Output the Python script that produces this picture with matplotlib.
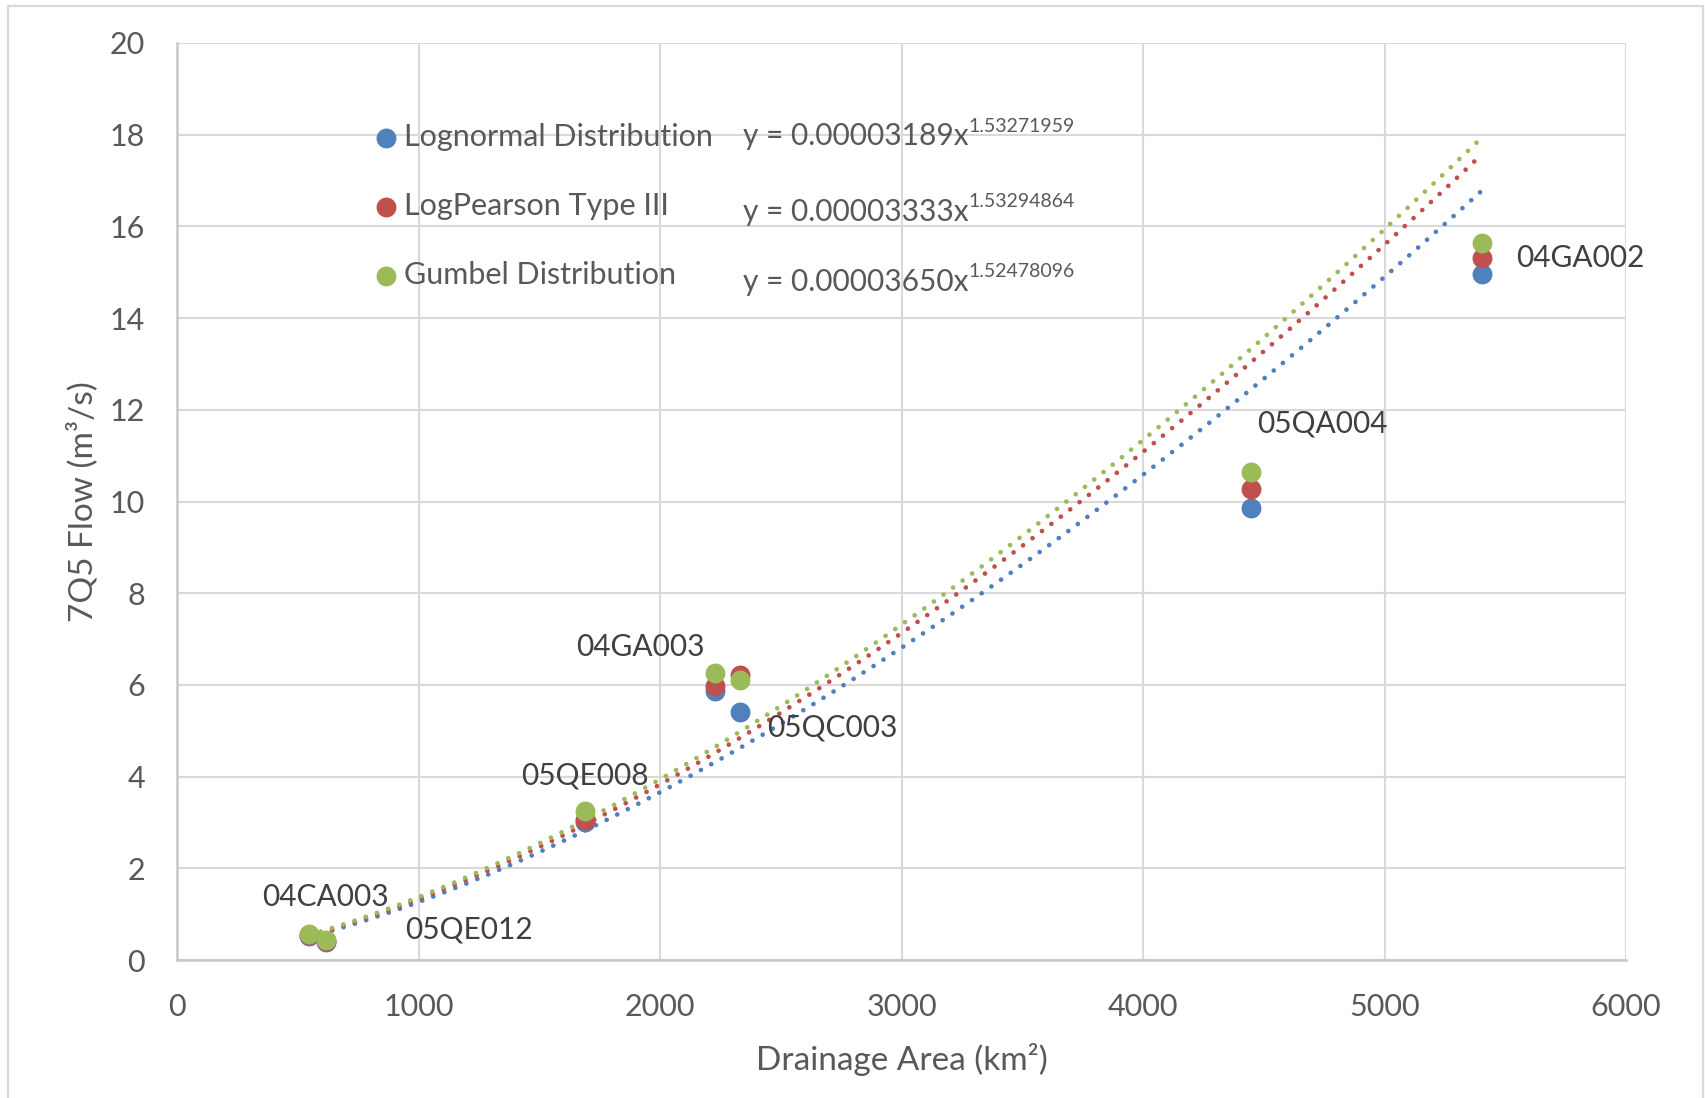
import numpy as np
import matplotlib
matplotlib.use("Agg")
import matplotlib.pyplot as plt
from matplotlib.patches import Rectangle

# drainage area (km2) per station, and 7Q5 flow per distribution
STATIONS = ["04CA003", "05QE012", "05QE008", "04GA003", "05QC003", "05QA004", "04GA002"]
AREA = [548, 616, 1691, 2229, 2333, 4446, 5402]
LOGNORMAL = [0.53, 0.40, 3.02, 5.86, 5.41, 9.85, 14.97]
LOGPEARSON = [0.54, 0.41, 3.06, 5.98, 6.22, 10.28, 15.32]
GUMBEL = [0.56, 0.43, 3.26, 6.26, 6.11, 10.65, 15.63]

# power trendlines as printed on the chart: y = a * x^b
COEF = [0.00003189, 0.00003333, 0.00003650]
EXPO = [1.53271959, 1.53294864, 1.52478096]
COEF_TXT = ["0.00003189", "0.00003333", "0.00003650"]
EXPO_TXT = ["1.53271959", "1.53294864", "1.52478096"]

NAMES = ["Lognormal Distribution", "LogPearson Type III", "Gumbel Distribution"]
COLORS = ["#4F81BD", "#C0504D", "#9BBB59"]

# label offsets (pixels) relative to the Gumbel point
LBL_OFF = [(16, 37), (143, 11), (0, 35), (-75, 26), (92, -48), (72, 48), (99, -15)]

FONT = "Lato"
TXT = "#595959"
plt.rcParams["font.family"] = [FONT, "DejaVu Sans"]

fig = plt.figure(figsize=(17.05, 10.98), dpi=100)
ax = fig.add_axes([177 / 1705, 138 / 1098, 1449 / 1705, 917 / 1098])

# outer chart border
fig.patches.append(Rectangle((8 / 1705, -0.02), 1695 / 1705, 1.02 - 5.5 / 1098,
                             transform=fig.transFigure, fill=False,
                             edgecolor="#D9D9D9", lw=1.6, zorder=0))

series = [LOGNORMAL, LOGPEARSON, GUMBEL]
handles = []
for vals, name, c in zip(series, NAMES, COLORS):
    h = ax.scatter(AREA, vals, s=205, color=c, zorder=4, label=name, linewidths=0)
    handles.append(h)

xs = np.linspace(min(AREA), max(AREA), 200)
for a, b, c in zip(COEF, EXPO, COLORS):
    ax.plot(xs, a * xs ** b, color=c, lw=3.4, linestyle=(0, (0.01, 2.5)),
            dash_capstyle="round", zorder=3)

for i, name in enumerate(STATIONS):
    ax.annotate(name, xy=(AREA[i], GUMBEL[i]), xytext=LBL_OFF[i], textcoords="offset pixels",
                ha="center", va="center", fontsize=21.5, color="#404040", zorder=5)

ax.set_xlim(0, 6000)
ax.set_ylim(0, 20)
ax.set_xticks(np.arange(0, 6001, 1000))
ax.set_yticks(np.arange(0, 21, 2))
ax.grid(True, color="#D9D9D9", lw=1.5, zorder=0)
ax.set_axisbelow(True)
for s in ["top", "right"]:
    ax.spines[s].set_visible(False)
for s in ["left", "bottom"]:
    ax.spines[s].set_color("#C8C8C8")
    ax.spines[s].set_linewidth(1.8)
ax.tick_params(length=0, labelsize=22, labelcolor=TXT)
ax.tick_params(axis="y", pad=23)
ax.tick_params(axis="x", pad=24)

ax.set_xlabel("Drainage Area (km²)", fontsize=24, color=TXT)
ax.xaxis.set_label_coords(0.5, (960 - 1060) / 917)
ax.xaxis.label.set_va("center")
ax.set_ylabel("7Q5 Flow (m³/s)", fontsize=24, color=TXT)
ax.yaxis.set_label_coords((82 - 177) / 1449, 0.5)
ax.yaxis.label.set_va("center")

leg = ax.legend(handles=handles, loc="center left",
                bbox_to_anchor=((377 - 177) / 1449, (960 - 206) / 917),
                frameon=False, fontsize=22, labelcolor=TXT, handlelength=0.6,
                handletextpad=0.3, labelspacing=1.34, borderpad=0, borderaxespad=0,
                markerscale=1.0)

eq_y = [(960 - 136) / 917, (960 - 211.5) / 917, (960 - 281.5) / 917]
for yy, ct, et in zip(eq_y, COEF_TXT, EXPO_TXT):
    t = ax.text((743 - 177) / 1449, yy, f"y = {ct}x", transform=ax.transAxes,
                fontsize=21.5, color=TXT, va="center", ha="left")
    ax.annotate(et, xy=(1, 0.85), xycoords=t, va="center", ha="left",
                fontsize=14, color=TXT)

fig.savefig("out.png", dpi=100)
